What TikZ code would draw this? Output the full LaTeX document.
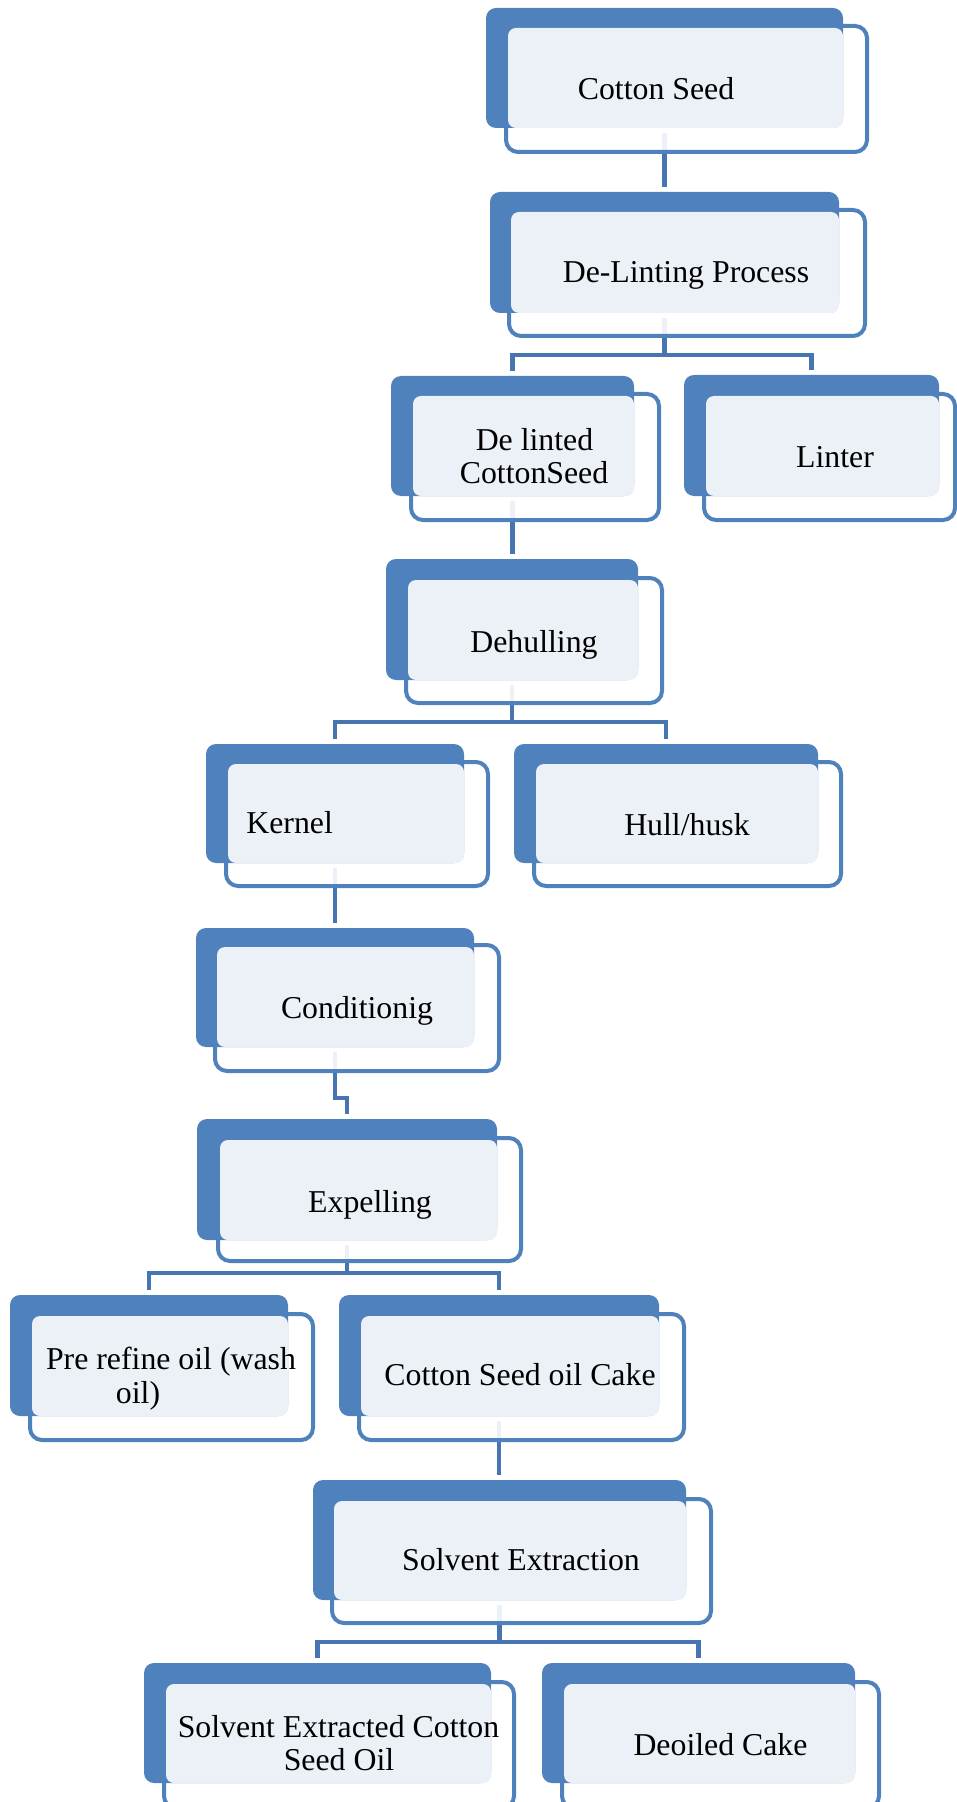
\documentclass[tikz,border=0pt]{standalone}
\usepackage{fontspec}
\setmainfont{Liberation Serif}
\usetikzlibrary{fit,calc}
\pgfdeclarelayer{bg}
\pgfsetlayers{bg,main}
\definecolor{accent}{RGB}{79,129,189}
\definecolor{conncol}{RGB}{70,117,177}
\definecolor{lightfill}{RGB}{236,240,247}
\tikzset{
  backbox/.style={fill=accent, draw=none, inner sep=0pt, outer sep=0pt, rounded corners=5pt},
  frontbox/.style={fill=white, fill opacity=0.9, draw=accent, draw opacity=1, line width=2pt, inner sep=0pt, outer sep=0pt, rounded corners=6pt},
  lightbox/.style={fill=lightfill, draw=none, inner sep=0pt, outer sep=0pt, rounded corners=4pt},
  lbl/.style={font=\fontsize{15.9pt}{16.4pt}\selectfont, inner sep=0pt, anchor=base, text=black},
  conn/.style={draw=conncol, line width=2.25pt},
}
% name, back x1 y1 x2 y2, front (outer) x1 y1 x2 y2
\newcommand\flowbox[9]{%
  \node[frontbox, fit={(#6+2,#7+2) (#8-2,#9-2)}] (#1f) {};
  \node[backbox, fit={(#2,#3) (#4,#5)}] (#1) {};
  \node[lightbox, fit={(#6+4,#7+4) (#4,#5)}] (#1l) {};
}
\begin{document}
\begin{tikzpicture}[x=0.5pt, y=-0.5pt]
\useasboundingbox (0,0) rectangle (957,1802);
\clip (0,0) rectangle (957,1802);

\flowbox{b1}{486}{8}{843}{128}{504}{24}{869}{154}
\flowbox{b2}{490}{192}{839}{313}{507}{208}{867}{338}
\flowbox{b3}{391}{376}{634}{496}{409}{392}{661}{522}
\flowbox{b4}{684}{375}{939}{496}{702}{392}{957}{522}
\flowbox{b5}{386}{559}{638}{680}{404}{576}{664}{705}
\flowbox{b6}{206}{744}{464}{863}{224}{760}{490}{888}
\flowbox{b7}{514}{744}{818}{863}{532}{760}{843}{888}
\flowbox{b8}{196}{928}{474}{1047}{213}{943}{501}{1073}
\flowbox{b9}{197}{1119}{497}{1240}{216}{1136}{523}{1263}
\flowbox{b10}{10}{1295}{288}{1416}{28}{1312}{315}{1442}
\flowbox{b11}{339}{1295}{659}{1416}{357}{1312}{686}{1442}
\flowbox{b12}{313}{1480}{686}{1600}{330}{1497}{713}{1625}
\flowbox{b13}{144}{1663}{491}{1783}{162}{1680}{516}{1810}
\flowbox{b14}{542}{1663}{855}{1783}{560}{1680}{881}{1810}

\node[lbl] (t1) at (656,100) {Cotton Seed};
\node[lbl] (t2) at (686,283) {De-Linting Process};
\node[lbl] (t3a) at (534.5,451) {De linted};
\node[lbl] (t3b) at (534,483) {CottonSeed};
\node[lbl] (t4) at (835,467) {Linter};
\node[lbl] (t5) at (534,652) {Dehulling};
\node[lbl, anchor=base west] (t6) at (246,833) {Kernel};
\node[lbl] (t7) at (687,835) {Hull/husk};
\node[lbl] (t8) at (357,1018) {Conditionig};
\node[lbl] (t9) at (370,1212) {Expelling};
\node[lbl] (t10a) at (171,1369) {Pre refine oil (wash};
\node[lbl] (t10b) at (138,1403) {oil)};
\node[lbl] (t11) at (520,1385) {Cotton Seed oil Cake};
\node[lbl] (t12) at (521,1570) {Solvent Extraction};
\node[lbl] (t13a) at (338.5,1737) {Solvent Extracted Cotton};
\node[lbl] (t13b) at (339,1770) {Seed Oil};
\node[lbl] (t14) at (720.5,1755) {Deoiled Cake};

\begin{pgfonlayer}{bg}
  % Cotton Seed -> De-Linting
  \draw[conn] ($(b1.south)+(0,5)$) -- ($(b1.south |- b2.north)+(0,-5)$);
  % De-Linting -> De linted, Linter
  \path (b2.south) ++(0,42) coordinate (j2);
  \draw[conn] ($(b2.south)+(0,5)$) -- (j2);
  \draw[conn] ($(b3.north)+(0,-5)$) |- (j2) -| ($(b4.north)+(0,-5)$);
  % De linted -> Dehulling
  \draw[conn] ($(b3.south)+(0,5)$) -- ($(b3.south |- b5.north)+(0,-5)$);
  % Dehulling -> Kernel, Hull
  \path (b5.south) ++(0,42) coordinate (j5);
  \draw[conn] ($(b5.south)+(0,5)$) -- (j5);
  \draw[conn] ($(b6.north)+(0,-5)$) |- (j5) -| ($(b7.north)+(0,-5)$);
  % Kernel -> Conditionig
  \draw[conn] ($(b6.south)+(0,5)$) -- ($(b6.south |- b8.north)+(0,-5)$);
  % Conditionig -> Expelling (step)
  \coordinate (st) at (341,1098);
  \draw[conn] ($(b8.south)+(0,5)$) |- (st) -| ($(b9.north)+(0,-5)$);
  % Expelling -> Pre refine, Cake
  \path (b9.south) ++(0,33) coordinate (j9);
  \draw[conn] ($(b9.south)+(0,5)$) -- (j9);
  \draw[conn] ($(b10.north)+(0,-5)$) |- (j9) -| ($(b11.north)+(0,-5)$);
  % Cake -> Solvent Extraction
  \draw[conn] ($(b11.south)+(0,5)$) -- ($(b11.south |- b12.north)+(0,-5)$);
  % Solvent Extraction -> oil, deoiled cake
  \path (b12.south) ++(0,42) coordinate (j12);
  \draw[conn] ($(b12.south)+(0,5)$) -- (j12);
  \draw[conn] ($(b13.north)+(0,-5)$) |- (j12) -| ($(b14.north)+(0,-5)$);
\end{pgfonlayer}
\end{tikzpicture}
\end{document}
